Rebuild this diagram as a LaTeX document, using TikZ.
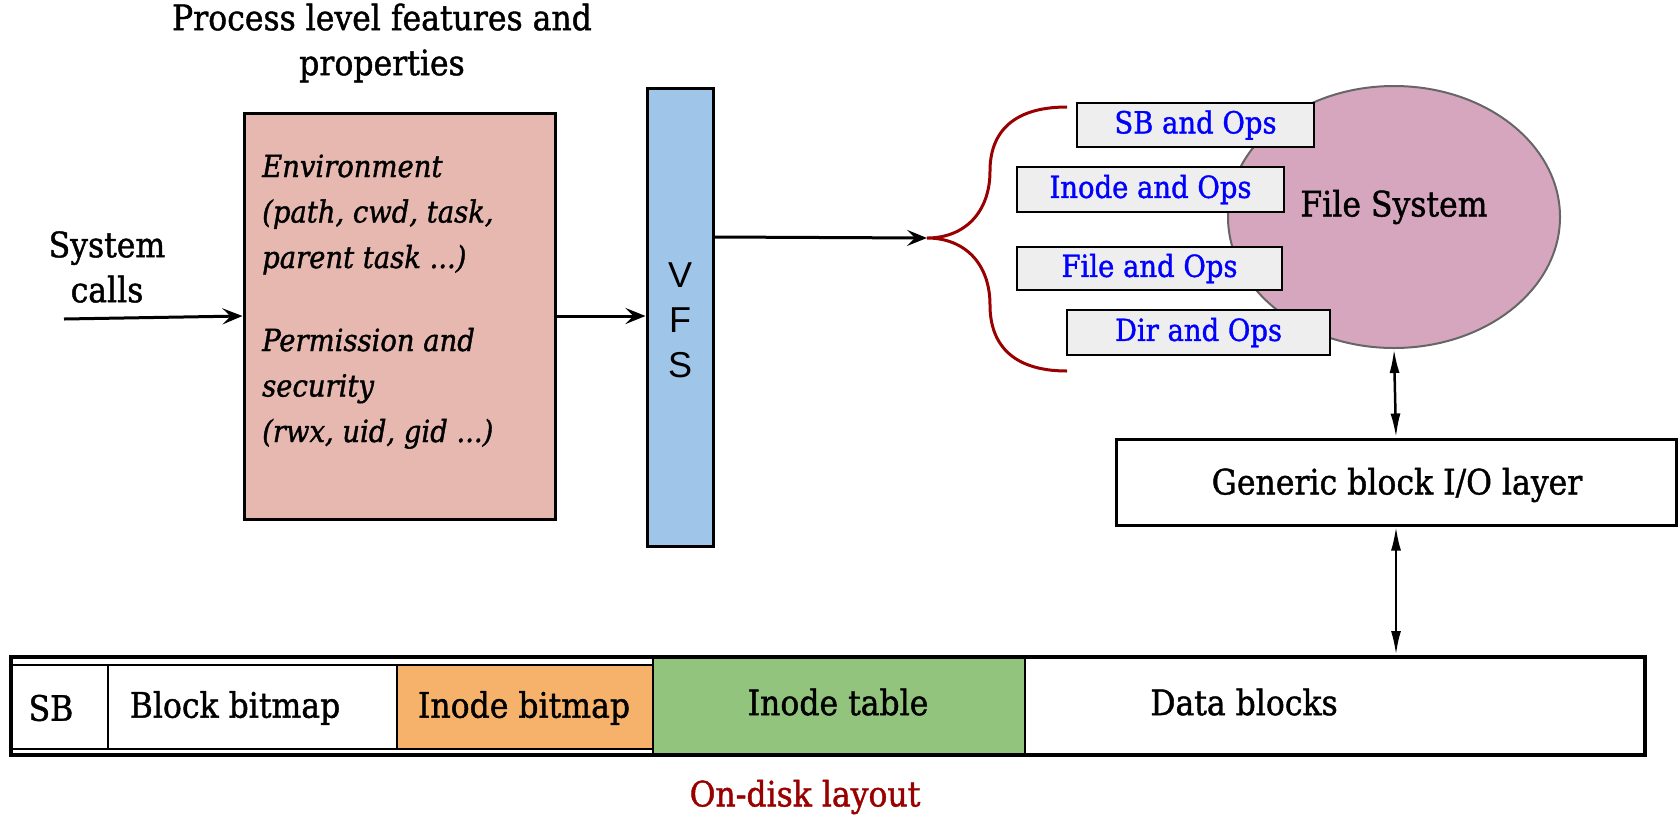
\documentclass[tikz,border=0pt]{standalone}
\usepackage{fontspec}
\setmainfont[FakeBold=1.2]{DejaVu Serif Condensed}
\newfontfamily\vfsfont{Liberation Sans}
\usetikzlibrary{arrows.meta,shapes.geometric}
\definecolor{pinkfill}{HTML}{E6B8AF}
\definecolor{vfsblue}{HTML}{9FC5E8}
\definecolor{fspink}{HTML}{D5A6BD}
\definecolor{opsgray}{HTML}{EEEEEE}
\definecolor{orangefill}{HTML}{F6B26B}
\definecolor{greenfill}{HTML}{93C47D}
\definecolor{darkred}{HTML}{990000}
\definecolor{ellgray}{HTML}{666666}
\tikzset{
  txt/.style={font=\fontsize{35}{45}\selectfont, inner sep=0pt},
  itxt/.style={font=\fontsize{30.5}{45.5}\selectfont\itshape, inner sep=0pt, align=left},
  opsbox/.style={draw, line width=2.5pt, fill=opsgray, text=blue, inner sep=0pt,
     font=\fontsize{30.5}{36}\selectfont},
  cell/.style={draw, line width=2.5pt, inner sep=0pt},
  arr/.style={line width=3pt, -{Stealth[length=20pt,width=16pt,inset=8pt]}},
  darr/.style={line width=2.5pt, {Latex[length=24pt,width=10pt]}-{Latex[length=24pt,width=10pt]}},
}
\begin{document}
\begin{tikzpicture}[x=1pt,y=-1pt]
\useasboundingbox (0,0) rectangle (1678,815);
% title
\node[txt, align=center] (title) at (382,43) {Process level features and\\properties};
% process box
\node[draw, line width=3pt, fill=pinkfill, minimum width=311pt, minimum height=406pt, inner sep=0pt] (proc) at (399.5,316) {};
\node[itxt, anchor=base west] (env) at (262,268) {Environment\\(path, cwd, task,\\parent task ...)};
\node[itxt, anchor=base west] (perm) at (262,442) {Permission and\\security\\(rwx, uid, gid ...)};
% system calls
\node[txt, align=center] (sys) at (107,267) {System\\calls};
\coordinate (sysstart) at (64,319);
\draw[arr] (sysstart) -- (proc.west);
% VFS
\node[draw, line width=3pt, fill=vfsblue, minimum width=66pt, minimum height=458pt, inner sep=0pt] (vfs) at (680,317) {};
\node[inner sep=0pt, align=center, font=\vfsfont\fontsize{36}{45}\selectfont] (vfstext) at (680,320) {V\\F\\S};
\draw[arr] (proc.east) -- (proc.east -| vfs.west);
% brace
\coordinate (tip) at (927,238);
\draw[darkred, line width=3pt] (1067,107) .. controls (1010,107) and (990,135) .. (990,171)
   .. controls (990,212) and (965,238) .. (tip)
   .. controls (965,238) and (990,264) .. (990,305)
   .. controls (990,342) and (1010,371) .. (1067,371);
\draw[arr] (vfs.east |- 0,237) -- (tip);
% file system ellipse
\node[ellipse, draw=ellgray, line width=2pt, fill=fspink, minimum width=332pt, minimum height=262pt, inner sep=0pt] (fs) at (1394,217) {};
\node[txt] (fstext) at (1394,207) {File System};
% ops boxes
\node[opsbox, minimum width=237pt, minimum height=44pt] (sbops) at (1195.5,125) {SB and Ops};
\node[opsbox, minimum width=267pt, minimum height=45pt] (inops) at (1150.5,189.5) {Inode and Ops};
\node[opsbox, minimum width=265pt, minimum height=43pt] (fileops) at (1149.5,268.5) {File and Ops};
\node[opsbox, minimum width=263pt, minimum height=45pt] (dirops) at (1198.5,332.5) {Dir and Ops};
% generic block layer
\node[draw, line width=3pt, fill=white, minimum width=560pt, minimum height=86pt, inner sep=0pt] (gen) at (1396,482) {};
\node[txt] (gentext) at (1397,485) {Generic block I/O layer};
\draw[darr] (fs.south) -- (gen.north);
% on-disk layout
\node[cell, fill=white, minimum width=97pt, minimum height=84pt] (sb) at (59.5,707) {};
\node[txt] (sbtext) at (51,708) {SB};
\node[cell, fill=white, minimum width=289pt, minimum height=84pt] (bbm) at (252.5,707) {};
\node[txt] (bbmtext) at (235,708) {Block bitmap};
\node[cell, fill=orangefill, minimum width=256pt, minimum height=84pt] (ibm) at (525,707) {};
\node[txt] (ibmtext) at (524,708) {Inode bitmap};
\node[cell, fill=greenfill, minimum width=372pt, minimum height=98pt] (itab) at (839,706) {};
\node[txt] (itabtext) at (838,702) {Inode table};
\node[cell, fill=white, minimum width=620pt, minimum height=98pt] (data) at (1335,706) {};
\node[txt] (datatext) at (1244,702) {Data blocks};
\node[draw, line width=4pt, minimum width=1634pt, minimum height=98pt, inner sep=0pt] (disk) at (828,706) {};
\draw[darr] (gen.south) -- (gen.south |- disk.north);
\node[txt, text=darkred] (layout) at (805,797) {On-disk layout};
\end{tikzpicture}
\end{document}
